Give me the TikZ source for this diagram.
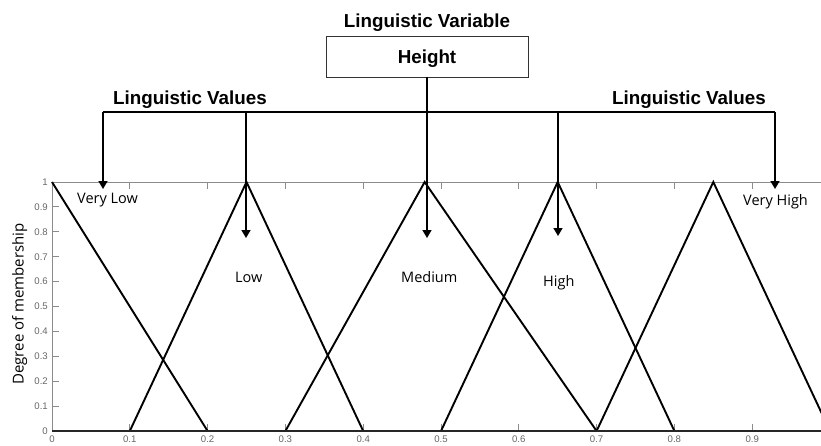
\documentclass[tikz,border=0pt]{standalone}
\usepackage{fontspec}
\setmainfont{Liberation Sans}
\newfontfamily\labelfont{Open Sans}
\newfontfamily\tickfont{Liberation Sans}
\usetikzlibrary{arrows.meta}

\definecolor{axisgray}{gray}{0.55}
\definecolor{tickgray}{gray}{0.40}

\tikzset{
  heading/.style={font=\fontsize{18.8}{20}\selectfont\bfseries, inner sep=0pt, anchor=base west},
  varbox/.style={draw=black!80, line width=0.9pt, minimum width=202pt, minimum height=41pt, inner sep=0pt},
  bus/.style={line width=1.5pt, black},
  arr/.style={line width=1.5pt, black, -{Triangle[width=9pt,length=8pt]}},
  mf/.style={line width=1.9pt, black, line join=miter},
  mflabel/.style={font=\labelfont\fontsize{14.5}{16}\selectfont, inner sep=0pt, anchor=base west},
  ylab/.style={font=\labelfont\fontsize{15}{16}\selectfont, inner sep=0pt},
  ticklab/.style={font=\tickfont\fontsize{9.6}{10}\selectfont, text=tickgray, inner sep=0pt},
  axisline/.style={axisgray, line width=0.9pt},
}

\begin{document}
\begin{tikzpicture}[x=1pt, y=-1pt]
\useasboundingbox (0,0) rectangle (821,445);

% ---------- headings and the variable box ----------
\node[heading, anchor=base] (var) at (427,27) {Linguistic Variable};
\node[varbox] (height) at (427,56.5) {};
\node[font=\fontsize{18.8}{20}\selectfont\bfseries, inner sep=0pt, anchor=base] (heighttxt) at (427,63) {Height};
\node[heading] (valsL) at (113,104) {Linguistic Values};
\node[heading] (valsR) at (612,104) {Linguistic Values};

% ---------- distribution bus ----------
\coordinate (hub)   at (427,112);
\coordinate (busL)  at (103,112);
\coordinate (busR)  at (775,112);
\coordinate (dropLo) at (246,112);
\coordinate (dropHi) at (558,112);

\coordinate (tipVL) at (103,189);
\coordinate (tipLo) at (246,238);
\coordinate (tipMe) at (427,238);
\coordinate (tipHi) at (558,236);
\coordinate (tipVH) at (775,189);

% ---------- plot frame (data coordinates) ----------
\begin{scope}[shift={(52,431)}, x=778pt, y=249pt]
  \clip (-0.1,-0.2) rectangle (0.9884,1.2);
  % top and left axis lines
  \draw[axisline] (0,0) -- (0,1) -- (1.05,1);
  % ticks
  \foreach \t in {0.1,0.2,...,0.95} {
    \draw[axisline] (\t,0) -- ++(0,7pt);
    \draw[axisline] (\t,1) -- ++(0,-7pt);
  }
  \foreach \t in {0.1,0.2,...,0.95} {
    \draw[axisline] (0,\t) -- ++(7pt,0);
  }
  % tick labels
  \node[ticklab, anchor=east] (y0) at ([xshift=-4pt]0,0) {0};
  \foreach \t/\s in {0.1/0.1,0.2/0.2,0.3/0.3,0.4/0.4,0.5/0.5,0.6/0.6,0.7/0.7,0.8/0.8,0.9/0.9} {
    \node[ticklab, anchor=east] (y\s) at ([xshift=-4pt]0,\t) {\s};
    \node[ticklab, anchor=north] (x\s) at ([yshift=-4.5pt]\t,0) {\s};
  }
  \node[ticklab, anchor=east] (y1) at ([xshift=-4pt]0,1) {1};
  \node[ticklab, anchor=north] (x0) at ([yshift=-4.5pt]0,0) {0};

  % membership functions
  \coordinate (pVL) at (0,1);
  \coordinate (pLo) at (0.25,1);
  \coordinate (pMe) at (0.479,1);
  \coordinate (pHi) at (0.65,1);
  \coordinate (pVH) at (0.85,1);
  \draw[mf] (pVL) -- (0.2,0);
  \draw[mf] (0.1,0) -- (pLo) -- (0.4,0);
  \draw[mf] (0.3,0) -- (pMe) -- (0.7,0);
  \draw[mf] (0.5,0) -- (pHi) -- (0.8,0);
  \draw[mf] (0.7,0) -- (pVH) -- (1,0);
  % zero line
  \draw[line width=2pt, black!85] (0,0) -- (1.05,0);
\end{scope}

% ---------- connectors ----------
\draw[bus] (height.south) -- (hub);
\draw[bus] (busL) -- (busR);
\draw[arr] (busL) -- (tipVL);
\draw[arr] (dropLo) -- (tipLo);
\draw[arr] (hub) -- (tipMe);
\draw[arr] (dropHi) -- (tipHi);
\draw[arr] (busR) -- (tipVH);

% ---------- value labels ----------
\node[mflabel] (lVL) at (77,203) {Very Low};
\node[mflabel] (lLo) at (235,282) {Low};
\node[mflabel] (lMe) at (401,282) {Medium};
\node[mflabel] (lHi) at (543,286) {High};
\node[mflabel] (lVH) at (743,205) {Very High};

\node[ylab, rotate=90, anchor=base] (ytitle) at (23.5,304) {Degree of membership};
\end{tikzpicture}
\end{document}
